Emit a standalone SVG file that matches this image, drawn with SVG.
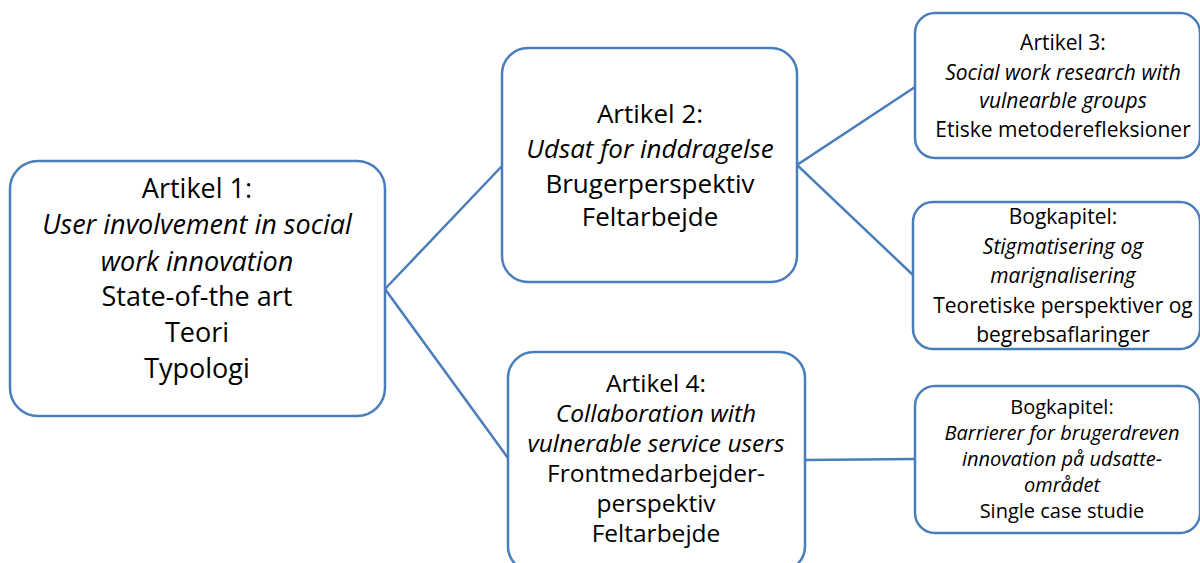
<svg xmlns="http://www.w3.org/2000/svg" width="1200" height="563" viewBox="0 0 1200 563">
<style>
.box{fill:#fff;stroke:#4a7ebb;stroke-width:2.5}
.ln{fill:none;stroke:#4a7ebb;stroke-width:2.5}
text{font-family:"Open Sans","Liberation Sans",sans-serif;fill:#000;text-anchor:middle}
.i{font-style:italic}
.t1{font-size:27px}
.t2{font-size:26px}
.t4{font-size:24.5px}
.t3{font-size:21px}
.t6{font-size:20px}
</style>
<rect width="1200" height="563" fill="#fff"/>
<g id="connectors">
<polyline class="ln" points="502,166 385,289 508,458"/>
<polyline class="ln" points="915,87 797,165 913,275"/>
<line class="ln" x1="805" y1="460" x2="915" y2="459"/>
</g>
<g id="n1">
<rect class="box" x="10" y="161" width="375" height="255" rx="28"/>
<text class="t1" x="197" y="198">Artikel 1:</text>
<text class="t1 i" x="197" y="234">User involvement in social</text>
<text class="t1 i" x="197" y="271">work innovation</text>
<text class="t1" x="197" y="306">State-of-the art</text>
<text class="t1" x="197" y="342">Teori</text>
<text class="t1" x="197" y="378">Typologi</text>
</g>
<g id="n2">
<rect class="box" x="502" y="48" width="295" height="234" rx="26"/>
<text class="t2" x="650" y="123">Artikel 2:</text>
<text class="t2 i" x="650" y="158">Udsat for inddragelse</text>
<text class="t2" x="650" y="193">Brugerperspektiv</text>
<text class="t2" x="650" y="226">Feltarbejde</text>
</g>
<g id="n4">
<rect class="box" x="508" y="352" width="297" height="220" rx="26"/>
<text class="t4" x="656" y="392">Artikel 4:</text>
<text class="t4 i" x="656" y="422">Collaboration with</text>
<text class="t4 i" x="656" y="452">vulnerable service users</text>
<text class="t4" x="656" y="482">Frontmedarbejder-</text>
<text class="t4" x="656" y="512">perspektiv</text>
<text class="t4" x="656" y="542">Feltarbejde</text>
</g>
<g id="n3">
<rect class="box" x="915" y="13" width="285" height="145" rx="20"/>
<text class="t3" x="1063" y="50">Artikel 3:</text>
<text class="t3 i" x="1063" y="80">Social work research with</text>
<text class="t3 i" x="1063" y="108">vulnearble groups</text>
<text class="t3" x="1063" y="137">Etiske metoderefleksioner</text>
</g>
<g id="n5">
<rect class="box" x="913" y="202" width="287" height="147" rx="20"/>
<text class="t3" x="1063" y="224">Bogkapitel:</text>
<text class="t3 i" x="1063" y="254">Stigmatisering og</text>
<text class="t3 i" x="1063" y="283">marignalisering</text>
<text class="t3" x="1063" y="313">Teoretiske perspektiver og</text>
<text class="t3" x="1063" y="342">begrebsaflaringer</text>
</g>
<g id="n6">
<rect class="box" x="915" y="386" width="285" height="147" rx="20"/>
<text class="t6" x="1062" y="414">Bogkapitel:</text>
<text class="t6 i" x="1062" y="440">Barrierer for brugerdreven</text>
<text class="t6 i" x="1062" y="466">innovation på udsatte-</text>
<text class="t6 i" x="1062" y="492">området</text>
<text class="t6" x="1062" y="518">Single case studie</text>
</g>
</svg>
